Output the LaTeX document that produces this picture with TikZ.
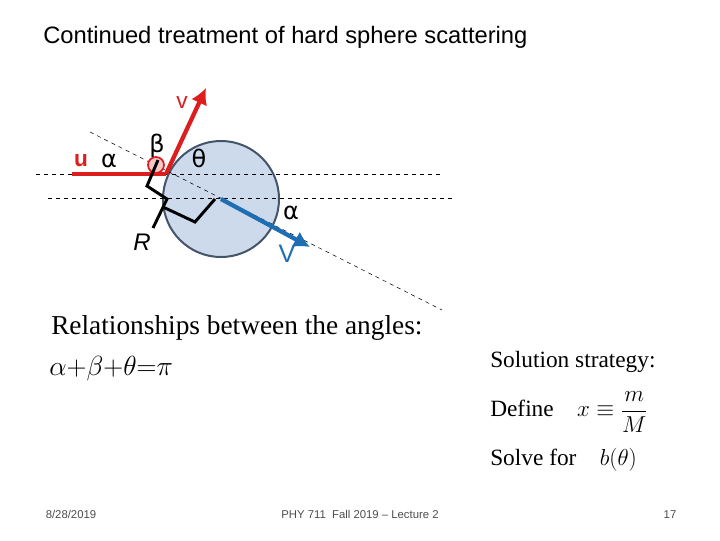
\documentclass[tikz,border=0pt]{standalone}
\usepackage{fontspec}
\usetikzlibrary{arrows.meta}
\setmainfont{Liberation Serif}
\setsansfont{Liberation Sans}
\newfontfamily\dejavu{DejaVu Sans}
\definecolor{vblue}{RGB}{30,110,180}
\definecolor{sedge}{RGB}{68,84,106}
\definecolor{sfill}{RGB}{205,218,236}
\definecolor{ured}{RGB}{220,30,30}
\begin{document}
\begin{tikzpicture}[x=0.75pt,y=-0.75pt,
  lbl/.style={inner sep=0pt,font=\sffamily\fontsize{17}{18}\selectfont},
  grk/.style={inner sep=0pt,font=\dejavu\fontsize{18}{18}\selectfont},
  ser/.style={inner sep=0pt,anchor=west,font=\rmfamily\fontsize{20.5}{24}\selectfont},
  sers/.style={inner sep=0pt,anchor=west,font=\rmfamily\fontsize{17.5}{20}\selectfont},
  foot/.style={inner sep=0pt,font=\sffamily\fontsize{8.5}{10}\selectfont,text=black!70},
  dsh/.style={dashed,line width=0.6pt},
  thick arrow/.style={line width=3.2pt,-{Latex[length=12pt,width=13pt]}}]
\useasboundingbox (0,0) rectangle (720,540);
\node[anchor=west,inner sep=0pt,font=\sffamily\fontsize{17.8}{20}\selectfont] (title) at (43,37) {Continued treatment of hard sphere scattering};
\node[circle,draw=sedge,line width=1.5pt,fill=sfill,minimum size=87pt,inner sep=0pt] (sph) at (221,199) {};
\coordinate (c) at (221,199);
\coordinate (d1a) at (36,174); \coordinate (d1b) at (443,174);
\coordinate (d2a) at (48,198); \coordinate (d2b) at (455,198);
\coordinate (dga) at (90,132); \coordinate (dgb) at (442,310);
\draw[dsh] (d1a) -- (d1b);
\draw[dsh] (d2a) -- (d2b);
\draw[dashed,line width=0.4pt] (dga) -- (dgb);
\node[circle,draw=ured,line width=1.3pt,fill=ured!25,minimum size=12pt,inner sep=0pt] (sc) at (156,165) {};
\coordinate (u0) at (72,174); \coordinate (hit) at (166,174);
\coordinate (vtip) at (206,88); \coordinate (Vtip) at (310,247);
\draw[line width=3.5pt,ured] (u0) -- (hit);
\draw[thick arrow,ured] (hit) -- (vtip);
\draw[thick arrow,vblue] (c) -- (Vtip);
\draw[line width=2.2pt,line join=miter] (158,160) -- (147,186) -- (167,199) -- (153,228);
\draw[line width=2.2pt] (163,207) -- (195,222) -- (215,199);
\node[lbl,text=ured,font=\sffamily\bfseries\fontsize{17}{18}\selectfont] (lu) at (81,161) {u};
\node[grk] (la1) at (109,161) {α};
\node[grk] (lb) at (157,146) {β};
\node[grk] (lt) at (199,158) {θ};
\node[grk] (la2) at (291,213) {α};
\node[lbl,font=\sffamily\itshape\fontsize{18}{18}\selectfont] (lR) at (142,242) {R};
\node[lbl,text=ured] (lv) at (182,103) {v};
\node[lbl,text=vblue,font=\sffamily\fontsize{19}{19}\selectfont] (lV) at (287,254) {V};
\node[ser] (rel) at (51,328) {Relationships between the angles:};
\node[ser] (eq) at (49,369) {$\alpha{+}\beta{+}\theta{=}\pi$};
\node[sers] (sol) at (490,362) {Solution strategy:};
\node[sers] (def) at (490,412) {Define\quad $x\equiv\displaystyle\frac{m}{M}$};
\node[sers] (solve) at (490,460) {Solve for\quad $b(\theta)$};
\node[foot,anchor=base] (date) at (71,518) {8/28/2019};
\node[foot,anchor=base] (mid) at (360,518) {PHY 711 \ Fall 2019 -- Lecture 2};
\node[foot,anchor=base] (pg) at (670,518) {17};
\end{tikzpicture}
\end{document}
